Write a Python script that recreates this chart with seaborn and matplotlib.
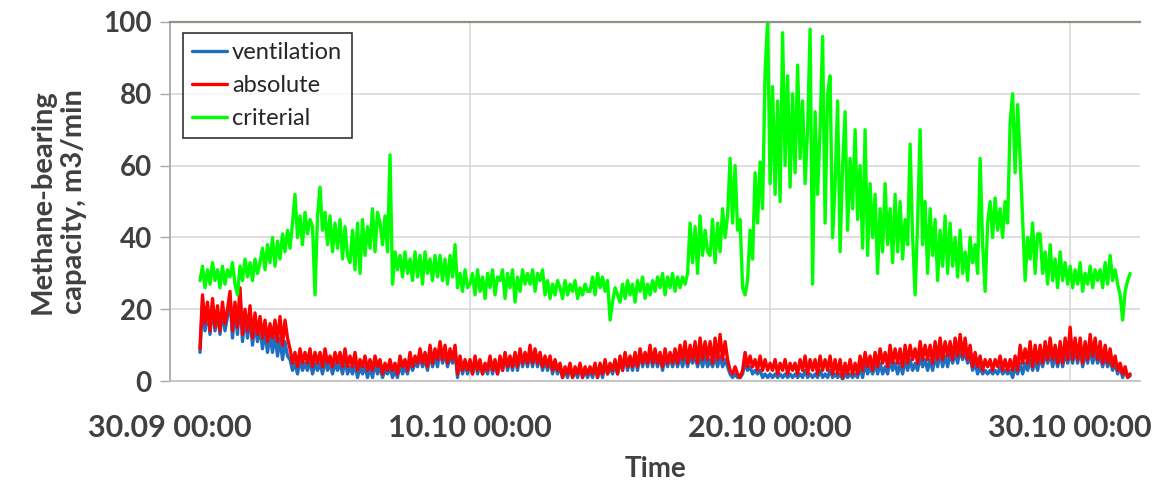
import pandas as pd
import matplotlib.pyplot as plt
import matplotlib.dates as mdates
import seaborn as sns

# readings every 2 hours, from 01.10 00:00 to 01.11 00:00
start_time = '2019-10-01 00:00'
step = '2h'

criterial = [
    28, 32, 26, 31, 27, 33, 28, 31, 26, 32, 27, 31,
    29, 33, 27, 24, 32, 28, 34, 29, 33, 28, 34, 30,
    33, 37, 31, 38, 33, 40, 32, 39, 34, 41, 36, 42,
    37, 44, 52, 40, 46, 38, 47, 41, 45, 43, 24, 46,
    54, 42, 47, 38, 46, 36, 44, 37, 45, 34, 43, 35,
    33, 42, 31, 44, 30, 45, 35, 43, 37, 48, 36, 47,
    44, 38, 46, 36, 63, 27, 36, 31, 35, 29, 36, 30,
    34, 28, 36, 29, 35, 27, 36, 30, 34, 28, 35, 29,
    35, 28, 34, 27, 35, 29, 38, 26, 30, 25, 31, 26,
    27, 30, 24, 31, 25, 29, 23, 30, 26, 31, 24, 29,
    28, 31, 23, 30, 26, 31, 22, 29, 25, 31, 27, 30,
    27, 31, 25, 30, 28, 31, 24, 28, 23, 27, 24, 28,
    26, 23, 28, 24, 27, 25, 28, 23, 26, 24, 27, 25,
    25, 29, 24, 30, 26, 29, 25, 28, 17, 22, 26, 24,
    22, 27, 23, 28, 24, 27, 22, 28, 25, 29, 23, 27,
    24, 28, 25, 29, 26, 30, 24, 29, 26, 30, 25, 29,
    26, 29, 27, 30, 44, 33, 43, 30, 46, 35, 42, 36,
    35, 45, 33, 44, 36, 48, 40, 46, 62, 44, 60, 42,
    45, 26, 24, 28, 42, 34, 58, 44, 61, 48, 86, 100,
    55, 82, 52, 78, 50, 97, 60, 85, 54, 80, 58, 88,
    62, 78, 55, 70, 98, 27, 75, 52, 70, 96, 44, 80,
    85, 40, 55, 78, 36, 60, 75, 42, 62, 48, 70, 45,
    60, 37, 70, 35, 55, 40, 52, 30, 48, 36, 55, 38,
    48, 33, 52, 36, 50, 34, 45, 38, 66, 40, 24, 44,
    70, 38, 50, 30, 48, 35, 45, 28, 42, 32, 46, 30,
    44, 32, 40, 29, 42, 30, 36, 28, 40, 33, 38, 30,
    62, 38, 25, 44, 50, 40, 51, 42, 48, 40, 50, 44,
    72, 80, 58, 77, 62, 45, 28, 40, 34, 44, 30, 41,
    41, 30, 36, 27, 38, 28, 34, 26, 36, 28, 33, 27,
    32, 26, 31, 27, 33, 25, 30, 27, 32, 26, 31, 28,
    31, 26, 33, 27, 35, 28, 31, 27, 24, 17, 25, 28,
    30,
]

absolute = [
    9, 24, 16, 22, 14, 23, 15, 21, 14, 22, 16, 20,
    25, 14, 22, 15, 26, 13, 20, 14, 21, 12, 19, 13,
    18, 12, 17, 11, 16, 12, 17, 11, 18, 10, 17, 12,
    9, 5, 8, 4, 9, 5, 8, 5, 9, 4, 8, 5,
    8, 4, 9, 5, 7, 4, 8, 5, 8, 4, 9, 4,
    7, 4, 8, 3, 6, 4, 7, 3, 6, 3, 7, 4,
    6, 2, 5, 3, 6, 3, 5, 2, 7, 4, 6, 3,
    8, 4, 7, 5, 9, 5, 8, 4, 10, 5, 9, 6,
    11, 6, 10, 5, 9, 6, 10, 2, 7, 3, 6, 3,
    6, 2, 7, 3, 6, 2, 5, 3, 7, 3, 6, 2,
    7, 3, 8, 4, 7, 4, 8, 4, 9, 5, 8, 5,
    10, 5, 9, 5, 8, 4, 7, 4, 7, 3, 6, 3,
    5, 1, 4, 2, 5, 1, 4, 2, 5, 1, 4, 2,
    4, 2, 5, 1, 5, 2, 6, 2, 5, 3, 6, 2,
    7, 3, 8, 4, 7, 4, 8, 4, 9, 5, 8, 5,
    10, 5, 9, 5, 8, 4, 9, 5, 8, 5, 9, 5,
    10, 6, 11, 5, 10, 6, 11, 5, 12, 6, 11, 6,
    11, 5, 12, 6, 13, 6, 11, 6, 3, 2, 4, 2,
    1, 3, 8, 4, 7, 4, 6, 3, 7, 3, 6, 3,
    5, 3, 6, 2, 5, 3, 6, 2, 5, 3, 5, 2,
    6, 3, 7, 2, 6, 3, 6, 2, 7, 3, 6, 3,
    7, 2, 6, 2, 6, 1, 5, 2, 6, 2, 5, 2,
    7, 3, 8, 4, 7, 3, 8, 4, 9, 5, 8, 4,
    10, 5, 9, 5, 9, 4, 10, 5, 10, 6, 9, 5,
    11, 6, 10, 6, 10, 5, 11, 6, 12, 6, 11, 7,
    11, 6, 12, 7, 13, 7, 12, 6, 10, 4, 8, 4,
    7, 3, 6, 4, 6, 3, 6, 4, 7, 3, 6, 3,
    6, 3, 7, 3, 10, 5, 9, 5, 11, 4, 10, 5,
    10, 5, 11, 6, 12, 6, 10, 5, 11, 5, 12, 6,
    15, 6, 12, 6, 12, 5, 11, 6, 13, 7, 12, 6,
    11, 5, 10, 5, 9, 4, 7, 3, 5, 2, 4, 1,
    2,
]

ventilation = [
    8, 22, 14, 20, 13, 21, 14, 19, 13, 20, 14, 18,
    23, 12, 20, 13, 24, 11, 18, 12, 18, 10, 16, 11,
    15, 9, 14, 8, 13, 8, 13, 7, 12, 6, 11, 7,
    6, 3, 5, 2, 6, 3, 5, 3, 6, 2, 5, 3,
    5, 2, 6, 3, 5, 2, 5, 3, 5, 2, 6, 2,
    4, 2, 5, 1, 4, 2, 4, 1, 4, 1, 5, 2,
    4, 1, 3, 2, 4, 1, 3, 1, 5, 2, 4, 2,
    6, 3, 5, 4, 7, 4, 6, 3, 8, 4, 7, 4,
    9, 5, 8, 4, 7, 5, 8, 1, 6, 2, 5, 2,
    5, 2, 6, 2, 5, 2, 4, 2, 6, 2, 5, 2,
    6, 3, 7, 3, 6, 3, 7, 3, 8, 4, 7, 4,
    8, 4, 8, 4, 7, 3, 6, 3, 6, 2, 5, 2,
    4, 1, 3, 1, 4, 1, 3, 1, 4, 1, 3, 1,
    3, 1, 4, 1, 4, 1, 5, 2, 4, 2, 5, 2,
    6, 3, 7, 3, 6, 3, 7, 3, 8, 4, 7, 4,
    8, 4, 7, 4, 7, 3, 7, 4, 7, 4, 7, 4,
    7, 4, 7, 4, 7, 5, 7, 4, 7, 4, 7, 4,
    6, 4, 7, 4, 7, 4, 6, 4, 2, 1, 2, 1,
    1, 2, 5, 3, 4, 2, 3, 2, 3, 1, 2, 1,
    2, 1, 2, 1, 2, 1, 2, 1, 2, 1, 2, 1,
    2, 1, 3, 1, 2, 1, 2, 1, 3, 1, 2, 1,
    3, 1, 2, 1, 2, 0.5, 2, 1, 2, 1, 2, 1,
    4, 1, 5, 2, 4, 2, 5, 2, 5, 2, 4, 2,
    6, 3, 5, 2, 5, 2, 6, 3, 6, 3, 5, 3,
    7, 4, 6, 3, 6, 3, 7, 4, 8, 4, 7, 4,
    8, 5, 8, 5, 9, 6, 8, 5, 7, 3, 5, 2,
    4, 2, 3, 2, 3, 2, 3, 2, 4, 2, 3, 2,
    3, 1, 4, 2, 5, 2, 5, 3, 6, 3, 6, 3,
    7, 4, 8, 5, 8, 4, 7, 4, 8, 4, 8, 5,
    8, 5, 9, 5, 9, 4, 8, 5, 9, 5, 8, 5,
    7, 4, 7, 4, 6, 3, 5, 2, 4, 1, 3, 1,
    1.5,
]

series_names = ['ventilation', 'absolute', 'criterial']
series_colors = ['#1f6fc0', '#ff0000', '#00ff00']
tick_dates = ['2019-09-30', '2019-10-10', '2019-10-20', '2019-10-30']

times = pd.date_range(start_time, periods=len(criterial), freq=step)
df = pd.DataFrame({'time': times, 'ventilation': ventilation,
                   'absolute': absolute, 'criterial': criterial})
df_long = df.melt(id_vars='time', var_name='series', value_name='value')

sns.set_theme(style='whitegrid')
plt.rcParams['font.family'] = ['Lato', 'DejaVu Sans']

fig = plt.figure(figsize=(11.54, 4.88), dpi=100)
ax = fig.add_axes([0.1473, 0.219, 0.8407, 0.736])

sns.lineplot(data=df_long, x='time', y='value', hue='series',
             hue_order=series_names, palette=series_colors,
             linewidth=2.4, ax=ax)

ax.set_ylim(0, 100)
ax.set_yticks(range(0, 101, 20))
ax.set_xlim(pd.Timestamp('2019-09-30'), pd.Timestamp('2019-09-30') + pd.Timedelta(hours=776))
ax.set_xticks(pd.to_datetime(tick_dates))
ax.xaxis.set_major_formatter(mdates.DateFormatter('%d.%m %H:%M'))

ax.grid(True, color='#d9d9d9', linewidth=1.2)
ax.spines['right'].set_visible(False)
ax.spines['top'].set_color('#8c9483')
ax.spines['top'].set_linewidth(1.6)
ax.spines['left'].set_color('#a6a6a6')
ax.spines['bottom'].set_color('#bfbfbf')
ax.spines['left'].set_linewidth(1.2)
ax.spines['bottom'].set_linewidth(1.2)

ax.tick_params(axis='y', left=True, length=7, width=1, color='#a6a6a6',
               labelsize=20, labelcolor='#404040', pad=6)
ax.tick_params(axis='x', bottom=False, labelsize=22, labelcolor='#404040', pad=18)
for lab in ax.get_xticklabels() + ax.get_yticklabels():
    lab.set_fontweight('bold')

ax.set_xlabel('Time', fontsize=20, fontweight='bold', color='#404040', labelpad=10)
ax.set_ylabel('Methane-bearing\ncapacity, m3/min', fontsize=21, fontweight='bold',
              color='#404040', labelpad=12, linespacing=1.25)

leg = ax.legend(loc='upper left', bbox_to_anchor=(0.013, 0.97), fontsize=17,
                frameon=True, fancybox=False, handlelength=1.5, handletextpad=0.2,
                borderpad=0.4, labelspacing=0.5, borderaxespad=0)
leg.get_frame().set_edgecolor('black')
leg.get_frame().set_linewidth(1.2)
for text in leg.get_texts():
    text.set_color('#262626')

plt.savefig('out.png', dpi=100)
